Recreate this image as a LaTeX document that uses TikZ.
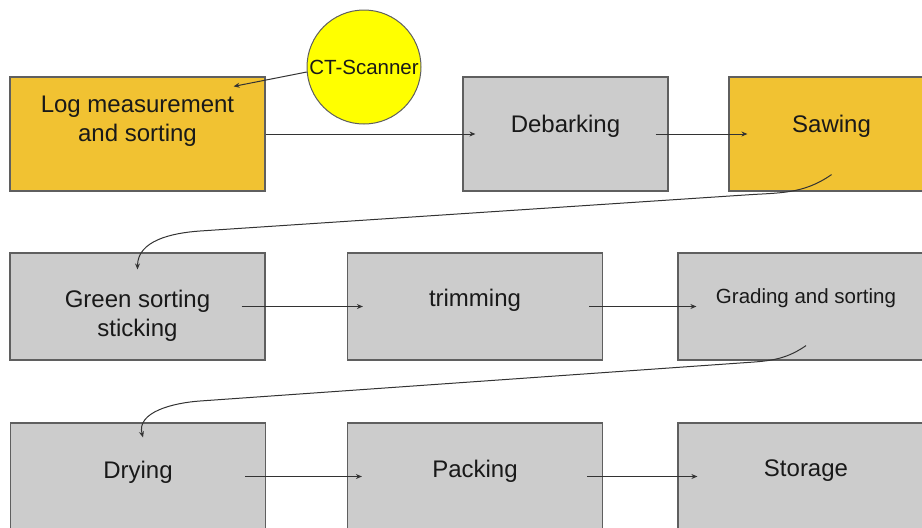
\documentclass[tikz,border=0pt]{standalone}
\usepackage{fontspec}
\setmainfont{Liberation Sans}
\usetikzlibrary{arrows.meta}
\definecolor{gold}{HTML}{F1C232}
\definecolor{boxgray}{HTML}{CCCCCC}
\definecolor{scanyellow}{HTML}{FFFF00}
\definecolor{edgegray}{HTML}{5F5F5F}
\definecolor{linegray}{HTML}{333333}
\tikzset{
  box/.style={draw=edgegray, line width=1.2pt, fill=boxgray, minimum width=255pt, minimum height=107pt, inner sep=0pt},
  txt/.style={font=\fontsize{24}{29}\selectfont, align=center, text=black!90},
  small/.style={font=\fontsize{20.5}{24}\selectfont, text=black!90},
  flow/.style={linegray, line width=1pt, -{Stealth[length=6pt,width=5pt]}},
}
\begin{document}
\begin{tikzpicture}[x=1pt,y=-1pt]
\useasboundingbox (0,0) rectangle (922,528);
% first row
\node[box, fill=gold, minimum height=114pt, label={[txt,yshift=13pt]center:{Log measurement\\and sorting}}] (log) at (137.5,134) {};
\node[box, minimum width=205pt, minimum height=114pt, label={[txt,yshift=8pt]center:Debarking}] (deb) at (565.5,134) {};
\node[box, fill=gold, minimum width=205pt, minimum height=114pt, label={[txt,yshift=8pt]center:Sawing}] (saw) at (831.5,134) {};
\node[circle, draw=edgegray, line width=1pt, fill=scanyellow, minimum size=114pt, inner sep=0pt, small] (ct) at (364,67) {CT-Scanner};
% second row
\node[box, label={[txt,yshift=-9pt]center:{Green sorting\\sticking}}] (grn) at (137.5,306.5) {};
\node[box, label={[txt,yshift=6pt]center:trimming}] (trim) at (475,306.5) {};
\node[box, minimum width=256pt, label={[small,yshift=8pt]center:Grading and sorting}] (grad) at (806,306.5) {};
% third row
\node[box, label={[txt,yshift=4pt]center:Drying}] (dry) at (138,476.5) {};
\node[box, label={[txt,yshift=5pt]center:Packing}] (pack) at (475,476.5) {};
\node[box, minimum width=256pt, label={[txt,yshift=6pt]center:Storage}] (stor) at (806,476.5) {};
% connectors
\draw[flow] (ct.185) -- ([shift={(-32,10)}]log.north east);
\draw[flow] (log.east) -- ([xshift=13pt]deb.west);
\draw[flow] ([xshift=-13pt]deb.east) -- ([xshift=19pt]saw.west);
\draw[flow] ([yshift=17pt]saw.south) to[out=215,in=4] (745,195) -- (200,231) to[out=184,in=90] ([yshift=-17pt]grn.north);
\draw[flow] ([xshift=-24pt]grn.east) -- ([xshift=16pt]trim.west);
\draw[flow] ([xshift=-14pt]trim.east) -- ([xshift=19pt]grad.west);
\draw[flow] ([yshift=15pt]grad.south) to[out=215,in=4] (740,363) -- (200,401) to[out=184,in=105] ([shift={(5,15)}]dry.north);
\draw[flow] ([xshift=-21pt]dry.east) -- ([xshift=15pt]pack.west);
\draw[flow] ([xshift=-16pt]pack.east) -- ([xshift=20pt]stor.west);
\end{tikzpicture}
\end{document}
